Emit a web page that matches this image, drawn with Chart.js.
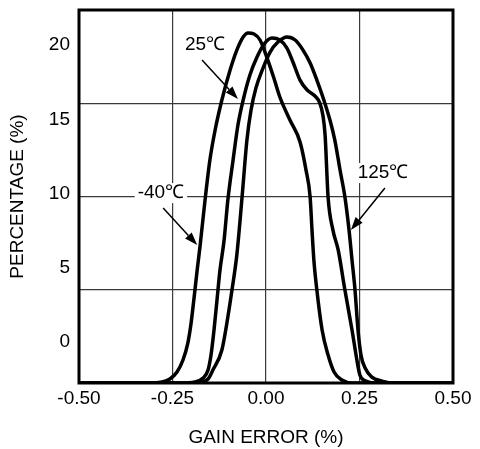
<!DOCTYPE html>
<html>
<head>
<meta charset="utf-8">
<script src="https://cdn.jsdelivr.net/npm/chart.js@4.4.1/dist/chart.umd.min.js"></script>
<style>
  html, body { margin: 0; padding: 0; background: #fff; }
  #wrap { width: 480px; height: 449px; }
</style>
</head>
<body>
<div id="wrap"><canvas id="chartGain" width="480" height="449"></canvas></div>
<script>
// ── DATA ───────────────────────────────────────────────────────────────────
// gain error (%) vs percentage (%)
const xM40 = [-0.50, -0.310, -0.278, -0.257, -0.238, -0.222, -0.209, -0.201, -0.193, -0.184, -0.176, -0.163, -0.150, -0.136, -0.118, -0.096, -0.078, -0.061, -0.048, -0.032, -0.016, 0.003, 0.021, 0.037, 0.064, 0.091, 0.107, 0.118, 0.123, 0.128, 0.136, 0.150, 0.166, 0.182, 0.203, 0.230, 0.50];
const yM40 = [-2.76, -2.76, -2.69, -2.49, -2.02, -1.21, -0.07, 1.14, 2.83, 4.85, 6.53, 9.56, 12.26, 14.28, 16.30, 18.32, 19.66, 20.54, 20.81, 20.74, 20.34, 19.12, 17.78, 16.50, 14.95, 13.47, 11.58, 9.76, 7.54, 5.52, 3.50, 0.81, -0.88, -2.02, -2.56, -2.76, -2.76];

const x25 = [-0.50, -0.230, -0.190, -0.168, -0.155, -0.147, -0.139, -0.131, -0.123, -0.112, -0.102, -0.088, -0.075, -0.061, -0.043, -0.024, -0.005, 0.016, 0.037, 0.056, 0.072, 0.091, 0.110, 0.131, 0.144, 0.152, 0.158, 0.166, 0.179, 0.193, 0.211, 0.230, 0.243, 0.251, 0.267, 0.291, 0.50];
const y25 = [-2.76, -2.76, -2.69, -2.42, -1.89, -0.88, 0.81, 2.83, 4.85, 6.87, 9.56, 12.26, 14.61, 16.30, 17.98, 19.19, 20.07, 20.47, 20.34, 19.80, 18.86, 17.64, 16.97, 16.57, 16.09, 15.29, 13.94, 9.76, 7.54, 6.20, 3.50, 0.81, -1.21, -2.22, -2.63, -2.76, -2.76];

const x125 = [-0.50, -0.217, -0.176, -0.155, -0.142, -0.118, -0.102, -0.091, -0.078, -0.064, -0.051, -0.040, -0.027, -0.008, 0.011, 0.032, 0.056, 0.078, 0.099, 0.118, 0.136, 0.152, 0.171, 0.184, 0.198, 0.211, 0.222, 0.230, 0.238, 0.246, 0.254, 0.265, 0.283, 0.310, 0.345, 0.50];
const y125 = [-2.76, -2.76, -2.69, -2.49, -1.89, -0.54, 1.68, 3.50, 5.86, 9.76, 13.60, 15.62, 17.10, 18.45, 19.53, 20.20, 20.54, 20.34, 19.66, 18.79, 17.64, 16.50, 14.95, 13.60, 11.58, 9.76, 7.54, 5.52, 3.50, 0.81, -0.88, -1.75, -2.36, -2.63, -2.76, -2.76];

const xTicks = [-0.50, -0.25, 0.00, 0.25, 0.50];
const yTicks = [0, 5, 10, 15, 20];
const Y_MIN = -2.76, Y_MAX = 22.36;

// callouts: text position and arrow, in data units
const notes = [
  { text: '25℃',  at: [-0.163, 20.00], from: [-0.171, 18.99], to: [-0.075, 16.36] },
  { text: '-40℃', at: [-0.281, 10.03], from: [-0.275,  9.02], to: [-0.184,  6.53] },
  { text: '125℃', at: [ 0.313, 11.38], from: [ 0.318, 10.37], to: [ 0.227,  7.54] },
];

const FONT = "'Liberation Sans', Arial, sans-serif";
Chart.defaults.font.family = FONT;
Chart.defaults.font.size = 19;
Chart.defaults.color = '#000';

const pts = (xs, ys) => xs.map((v, i) => ({ x: v, y: ys[i] }));
const curve = (label, xs, ys) => ({
  label, data: pts(xs, ys), borderColor: '#000', borderWidth: 3.5,
  pointRadius: 0, fill: false, cubicInterpolationMode: 'monotone', yAxisID: 'y'
});

// frame + callouts
const overlay = {
  id: 'overlay',
  afterDatasetsDraw(chart) {
    const { ctx, chartArea: a, scales: { x, y } } = chart;
    ctx.save();
    ctx.lineWidth = 3;
    ctx.strokeStyle = '#000';
    ctx.strokeRect(a.left, a.top, a.right - a.left, a.bottom - a.top);

    ctx.font = '19px ' + FONT;
    ctx.textAlign = 'center';
    ctx.textBaseline = 'middle';
    notes.forEach(n => {
      const tx = x.getPixelForValue(n.at[0]), ty = y.getPixelForValue(n.at[1]);
      const w = ctx.measureText(n.text).width;
      ctx.fillStyle = '#fff';
      ctx.fillRect(tx - w / 2 - 3, ty - 10, w + 6, 20);
      ctx.fillStyle = '#000';
      ctx.fillText(n.text, tx, ty);

      const x0 = x.getPixelForValue(n.from[0]), y0 = y.getPixelForValue(n.from[1]);
      const x1 = x.getPixelForValue(n.to[0]),   y1 = y.getPixelForValue(n.to[1]);
      const ang = Math.atan2(y1 - y0, x1 - x0);
      const L = 13, W = 4.5;
      const bx = x1 - L * Math.cos(ang), by = y1 - L * Math.sin(ang);
      ctx.lineWidth = 1.5;
      ctx.beginPath();
      ctx.moveTo(x0, y0);
      ctx.lineTo(bx, by);
      ctx.stroke();
      ctx.beginPath();
      ctx.moveTo(x1, y1);
      ctx.lineTo(bx + W * Math.sin(ang), by - W * Math.cos(ang));
      ctx.lineTo(bx - W * Math.sin(ang), by + W * Math.cos(ang));
      ctx.closePath();
      ctx.fill();
    });
    ctx.restore();
  }
};

new Chart(document.getElementById('chartGain'), {
  type: 'scatter',
  data: {
    datasets: [
      curve('-40℃', xM40, yM40),
      curve('25℃', x25, y25),
      curve('125℃', x125, y125),
    ]
  },
  options: {
    responsive: false, animation: false, devicePixelRatio: 1,
    showLine: true,
    layout: { padding: { top: 10, right: 27, left: 0, bottom: 0 } },
    plugins: { legend: { display: false }, tooltip: { enabled: false } },
    scales: {
      x: {
        type: 'linear', min: -0.5, max: 0.5,
        afterBuildTicks: s => { s.ticks = xTicks.map(v => ({ value: v })); },
        afterFit: s => { s.height = 66; s.paddingLeft = 0; s.paddingRight = 0; },
        ticks: { padding: 4, callback: v => v.toFixed(2), maxRotation: 0 },
        grid: { color: '#3a3a3a', lineWidth: 1.2, drawTicks: false },
        border: { display: false },
        title: { display: true, text: 'GAIN ERROR (%)', padding: { top: 0, bottom: 0 } }
      },
      yGrid: {
        type: 'linear', position: 'left', min: 0, max: 4,
        ticks: { display: false, stepSize: 1 },
        afterFit: s => { s.width = 0; s.paddingTop = 0; s.paddingBottom = 0; },
        grid: { color: '#3a3a3a', lineWidth: 1.2, drawTicks: false },
        border: { display: false }
      },
      y: {
        type: 'linear', position: 'left', min: Y_MIN, max: Y_MAX,
        afterBuildTicks: s => { s.ticks = yTicks.map(v => ({ value: v })); },
        afterFit: s => { s.width = 79; s.paddingTop = 0; s.paddingBottom = 0; },
        ticks: { padding: 9 },
        grid: { display: false, drawTicks: false },
        border: { display: false },
        title: { display: true, text: 'PERCENTAGE (%)', padding: { top: 6, bottom: 0 } }
      }
    }
  },
  plugins: [overlay]
});
</script>
</body>
</html>
